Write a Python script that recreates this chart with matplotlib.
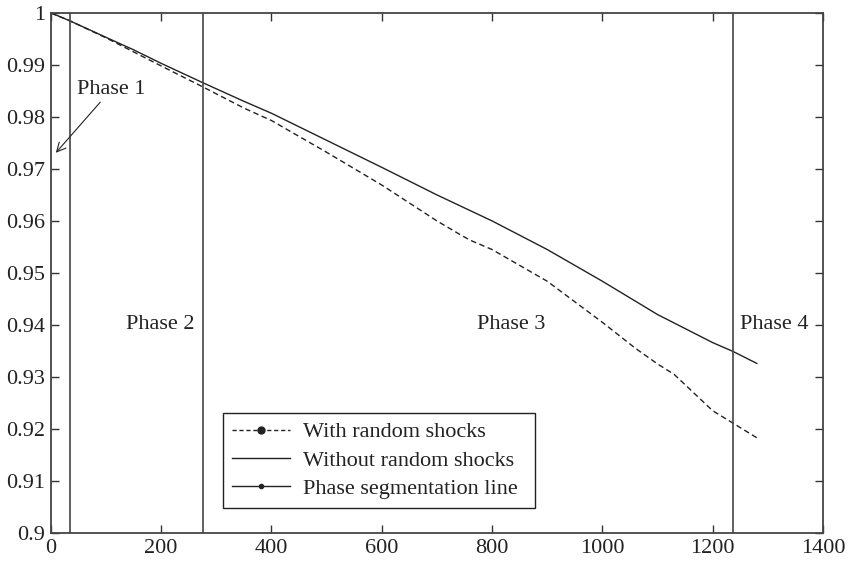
import matplotlib
matplotlib.use("Agg")
import matplotlib.pyplot as plt
from matplotlib.ticker import FormatStrFormatter, MultipleLocator
from matplotlib.lines import Line2D

# data
x_without = [0, 34, 100, 150, 200, 275, 350, 400, 500, 600, 700, 800, 900,
             1000, 1100, 1200, 1237, 1280]
y_without = [1.0, 0.9985, 0.9953, 0.9929, 0.9903, 0.9866, 0.9830, 0.9807,
             0.9755, 0.9703, 0.9650, 0.9600, 0.9545, 0.9484, 0.9420, 0.9366,
             0.9349, 0.9326]

x_with = [0, 34, 100, 150, 200, 275, 350, 400, 500, 600, 700, 740, 760, 800,
          900, 1000, 1060, 1100, 1130, 1200, 1237, 1280]
y_with = [1.0, 0.9985, 0.9952, 0.9925, 0.9898, 0.9858, 0.9817, 0.9793,
          0.9732, 0.9669, 0.9600, 0.9575, 0.9563, 0.9545, 0.9484, 0.9405,
          0.9355, 0.9325, 0.9305, 0.9235, 0.9211, 0.9183]

phase_lines = [34, 275, 1237]
phase_labels = ["Phase 2", "Phase 3", "Phase 4"]
phase_label_x = [198, 834, 1312]

plt.rcParams['font.family'] = ['Liberation Serif', 'DejaVu Serif']
plt.rcParams['font.size'] = 16

fig = plt.figure(figsize=(8.48, 5.61), dpi=100)
ax = fig.add_axes([0.060, 0.050, 0.9105, 0.927])

dark = '#222222'
ax.plot(x_with, y_with, color=dark, lw=1.0, ls=(0, (4, 2.5)))
ax.plot(x_without, y_without, color=dark, lw=1.0)
for xv in phase_lines:
    ax.axvline(xv, color='#444444', lw=1.2)

for lab, xl in zip(phase_labels, phase_label_x):
    ax.text(xl, 0.94, lab, ha='center', va='center', color=dark)

ax.annotate("Phase 1", xy=(9, 0.9731), xytext=(47, 0.9852),
            ha='left', va='center', color=dark,
            arrowprops=dict(arrowstyle='->', color=dark, lw=0.8,
                            shrinkA=0, shrinkB=0))

ax.set_xlim(0, 1400)
ax.set_ylim(0.9, 1.0)
ax.xaxis.set_major_locator(MultipleLocator(200))
ax.yaxis.set_major_locator(MultipleLocator(0.01))
ax.yaxis.set_major_formatter(FormatStrFormatter('%g'))
ax.tick_params(direction='in', length=6, width=1.0, color='#333333',
               top=True, right=True, labelcolor=dark, pad=4)
for sp in ax.spines.values():
    sp.set_linewidth(1.3)
    sp.set_color('#444444')

handles = [
    Line2D([], [], color=dark, lw=1.0, ls=(0, (3, 2)), marker='o',
           markersize=5, markevery=[1]),
    Line2D([], [], color=dark, lw=1.0),
    Line2D([], [], color=dark, lw=1.0, marker='o', markersize=3,
           markevery=[1]),
]
for h in handles:
    h.set_xdata([0, 1, 2])
    h.set_ydata([0, 0, 0])
leg = ax.legend(handles, ["With random shocks", "Without random shocks",
                          "Phase segmentation line"],
                loc='lower left', bbox_to_anchor=(0.223, 0.048, 0.404, 0.19),
                mode='expand', fancybox=False, framealpha=1, edgecolor=dark,
                borderpad=0.4, labelspacing=0.35, handlelength=2.6,
                handletextpad=0.6, borderaxespad=0, fontsize=16)
leg.get_frame().set_linewidth(1.0)
for t in leg.get_texts():
    t.set_color(dark)

fig.savefig("out.png", dpi=100)
